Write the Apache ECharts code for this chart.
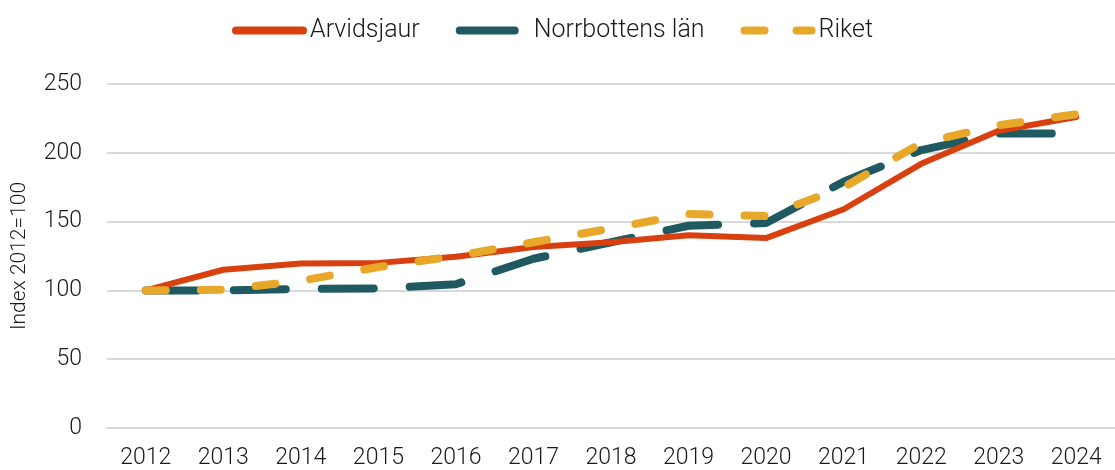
<!DOCTYPE html>
<html>
<head>
<meta charset="utf-8">
<script src="https://cdn.jsdelivr.net/npm/echarts@6/dist/echarts.min.js"></script>
<style>
  html, body { margin: 0; padding: 0; background: #fff; }
  #chart { width: 1115px; height: 470px; }
</style>
</head>
<body>
<div id="chart"></div>
<script>
const years = ['2012', '2013', '2014', '2015', '2016', '2017', '2018', '2019', '2020', '2021', '2022', '2023', '2024']
const arvidsjaur = [100, 115, 119.5, 120, 124.5, 131.5, 135, 140, 138, 159, 192, 216, 226]
const norrbotten = [100, 100, 101, 101.5, 104.5, 123, 135, 147, 149, 179, 202, 214, 214]
const riket = [100, 100.5, 107, 117, 125, 135, 145, 155.5, 154, 175, 207, 220, 228]

const font = 'Roboto'
const chart = echarts.init(document.getElementById('chart'))

// legend icons: a solid bar, one long dash, two short dashes (75 x 8 box)
const iconSolid = 'path://M4,0L71,0A4,4,0,0,1,71,8L4,8A4,4,0,0,1,4,0Z'
const iconLong = 'path://M4,0L59,0A4,4,0,0,1,59,8L4,8A4,4,0,0,1,4,0ZM75,4L75,4.01Z'
const iconShort = 'path://M4,0L24,0A4,4,0,0,1,24,8L4,8A4,4,0,0,1,4,0ZM56,0L71,0A4,4,0,0,1,71,8L56,8A4,4,0,0,1,56,0Z'

chart.setOption({
  animation: false,
  legend: {
    top: 13,
    left: 227,
    itemWidth: 75,
    itemHeight: 8,
    itemGap: 36,
    textStyle: { fontFamily: font, fontWeight: 300, fontSize: 25, color: '#1a1a1a', padding: [0, 0, 0, -2] },
    data: [
      { name: 'Arvidsjaur', icon: iconSolid },
      { name: 'Norrbottens län', icon: iconLong },
      { name: 'Riket', icon: iconShort }
    ]
  },
  grid: { left: 107, right: -9, top: 84, bottom: 41 },
  xAxis: {
    type: 'category',
    data: years,
    boundaryGap: true,
    axisLine: { lineStyle: { color: '#d9d9d9', width: 2 } },
    axisTick: { show: false },
    axisLabel: { fontFamily: font, fontWeight: 300, fontSize: 23, color: '#1a1a1a', margin: 19 }
  },
  yAxis: {
    type: 'value',
    min: 0,
    max: 250,
    interval: 50,
    name: 'Index 2012=100',
    nameLocation: 'middle',
    nameGap: 77,
    nameTextStyle: { fontFamily: font, fontWeight: 300, fontSize: 21, color: '#1a1a1a' },
    axisLabel: { fontFamily: font, fontWeight: 300, fontSize: 23, color: '#1a1a1a', margin: 25 },
    splitLine: { lineStyle: { color: '#d9d9d9', width: 2 } }
  },
  series: [
    {
      name: 'Arvidsjaur',
      type: 'line',
      data: arvidsjaur,
      symbol: 'none',
      z: 3,
      itemStyle: { color: '#d8400f' },
      lineStyle: { color: '#d8400f', width: 6, cap: 'round', join: 'round' }
    },
    {
      name: 'Norrbottens län',
      type: 'line',
      data: norrbotten,
      symbol: 'none',
      z: 2,
      itemStyle: { color: '#1f5961' },
      lineStyle: { color: '#1f5961', width: 8, type: [52, 36], cap: 'round', join: 'round' }
    },
    {
      name: 'Riket',
      type: 'line',
      data: riket,
      symbol: 'none',
      z: 4,
      itemStyle: { color: '#e7a82a' },
      lineStyle: { color: '#e7a82a', width: 8, type: [20, 35], cap: 'round', join: 'round' }
    }
  ]
})
</script>
</body>
</html>
